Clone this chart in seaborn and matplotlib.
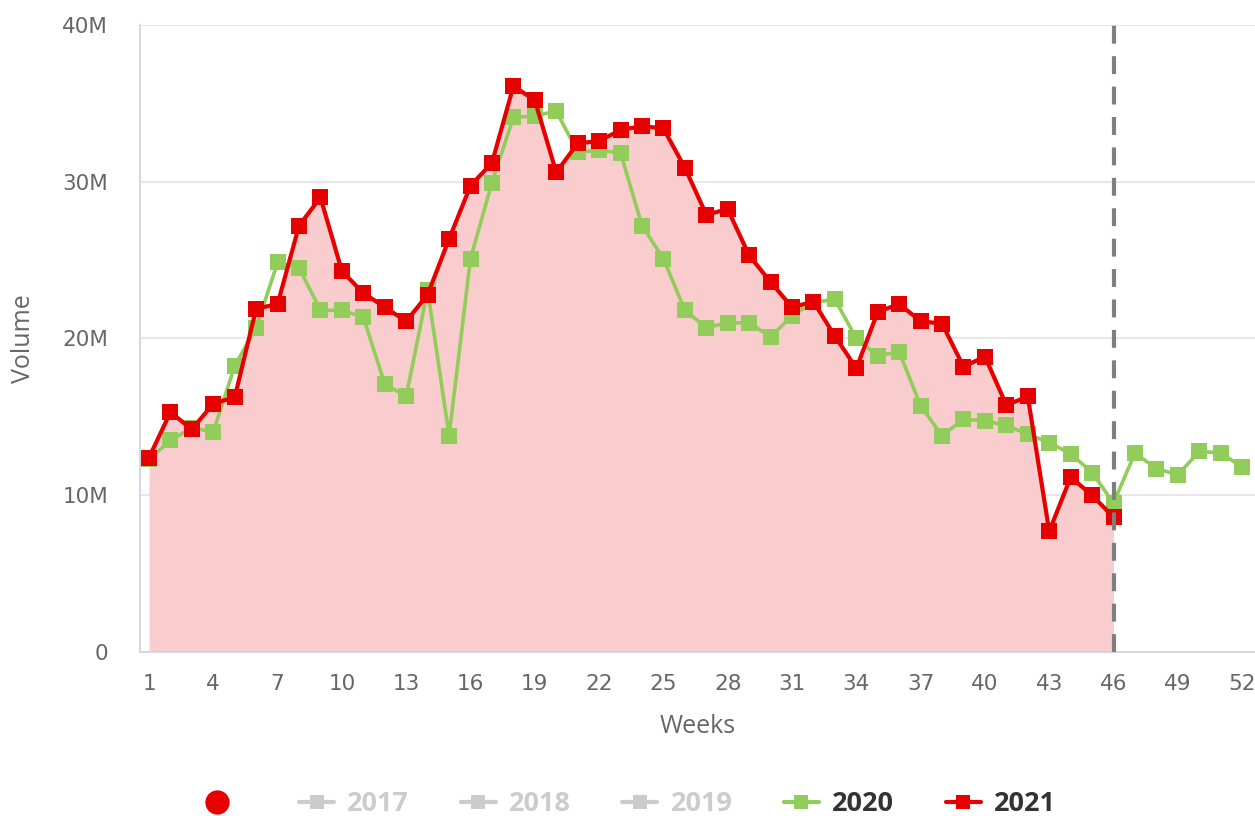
import numpy as np
import pandas as pd
import matplotlib.pyplot as plt
import seaborn as sns
from matplotlib.lines import Line2D

# weekly volume, millions
weeks_2020 = list(range(1, 53))
vol_2020 = [12.3, 13.5, 14.3, 14.05, 18.25, 20.7, 24.85, 24.5, 21.8, 21.8,
            21.35, 17.1, 16.3, 23.1, 13.8, 25.1, 29.95, 34.1, 34.2, 34.5,
            31.9, 32.0, 31.85, 27.2, 25.1, 21.8, 20.7, 21.0, 21.0, 20.1,
            21.45, 22.3, 22.5, 20.0, 18.9, 19.15, 15.7, 13.8, 14.85, 14.75,
            14.45, 13.9, 13.35, 12.65, 11.45, 9.5, 12.7, 11.7, 11.3, 12.8,
            12.7, 11.8]
weeks_2021 = list(range(1, 47))
vol_2021 = [12.4, 15.3, 14.2, 15.85, 16.25, 21.9, 22.2, 27.2, 29.0, 24.3,
            22.9, 22.0, 21.1, 22.8, 26.35, 29.75, 31.2, 36.1, 35.2, 30.6,
            32.45, 32.6, 33.3, 33.55, 33.4, 30.9, 27.9, 28.25, 25.3, 23.6,
            22.0, 22.35, 20.15, 18.1, 21.7, 22.2, 21.1, 20.95, 18.2, 18.85,
            15.75, 16.3, 7.7, 11.15, 10.0, 8.6]
current_week = 46
xtick_weeks = list(range(1, 53, 3))
ytick_vals = [0, 10, 20, 30, 40]
ytick_labels = ['0', '10M', '20M', '30M', '40M']
legend_years = ['2017', '2018', '2019', '2020', '2021']

red = '#E60000'
green = '#92CC5A'
fill_red = '#F9CDCD'
grey_legend = '#CCCCCC'

df20 = pd.DataFrame({'Week': weeks_2020, 'Volume': vol_2020})
df21 = pd.DataFrame({'Week': weeks_2021, 'Volume': vol_2021})

sns.set_style('white')
plt.rcParams['font.family'] = ['DejaVu Sans']

fig = plt.figure(figsize=(12.55, 8.16), dpi=100)
ax = fig.add_axes([140 / 1255, 164 / 816, 1115 / 1255, 627 / 816])

# area under 2021
ax.fill_between(df21['Week'], df21['Volume'], 0, color=fill_red, lw=0, zorder=1)

sns.lineplot(data=df20, x='Week', y='Volume', ax=ax, color=green, lw=2.6,
             marker='s', markersize=11, markeredgewidth=0, zorder=3)
sns.lineplot(data=df21, x='Week', y='Volume', ax=ax, color=red, lw=3,
             marker='s', markersize=12, markeredgewidth=0, zorder=4)

ax.axvline(current_week, color='#7F7F7F', lw=3, ls=(0, (4.3, 3)), zorder=5)

ax.set_xlim(0.58, 52.6)
ax.set_ylim(0, 40)
ax.set_xticks(xtick_weeks)
ax.set_xticklabels([str(w) for w in xtick_weeks])
ax.set_yticks(ytick_vals)
ax.set_yticklabels(ytick_labels)
ax.tick_params(axis='both', length=0, labelsize=15.5, colors='#666666')
ax.tick_params(axis='y', pad=23)
ax.tick_params(axis='x', pad=16)
ax.yaxis.grid(True, color='#E6E6E6', lw=1.3, zorder=0)
ax.set_axisbelow(True)
for s in ['top', 'right']:
    ax.spines[s].set_visible(False)
for s in ['left', 'bottom']:
    ax.spines[s].set_color('#CCD6EB')
    ax.spines[s].set_linewidth(1.3)

ax.set_xlabel('Weeks', fontsize=18, color='#666666', family='Open Sans', labelpad=14)
ax.set_ylabel('Volume', fontsize=18, color='#666666', family='Open Sans', labelpad=19)

# legend
handles = [Line2D([], [], ls='none', marker='o', markersize=17.5, color=red, markeredgewidth=0)]
labels = ['']
for yr in legend_years:
    c = {'2020': green, '2021': red}.get(yr, grey_legend)
    handles.append(Line2D([], [], color=c, lw=3, marker='s', markersize=10, markeredgewidth=0))
    labels.append(yr)
leg = fig.legend(handles, labels, loc='center', bbox_to_anchor=(0.5, 0.0147), ncol=6,
                 frameon=False, handlelength=1.3, columnspacing=1.9,
                 handletextpad=0.48, prop={'family': 'Open Sans', 'weight': 'bold', 'size': 19.5})
for t, yr in zip(leg.get_texts()[1:], legend_years):
    t.set_color('#333333' if yr in ('2020', '2021') else grey_legend)

fig.savefig('out.png', dpi=100)
